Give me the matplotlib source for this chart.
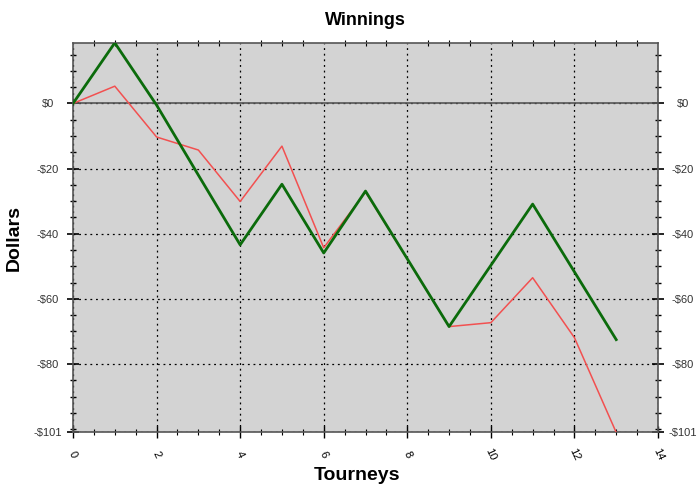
import matplotlib.pyplot as plt
import numpy as np
from matplotlib.ticker import FixedLocator, MultipleLocator

plt.rcParams["font.family"] = ["Liberation Sans", "DejaVu Sans"]

tourneys = np.arange(14)
green_vals = [0, 18.6, -0.5, -22.0, -43.4, -24.8, -45.9, -26.9, -47.7,
              -68.5, -49.7, -30.9, -51.7, -72.5]
red_vals = [0, 5.3, -10.3, -14.3, -30.1, -13.1, -44.3, -27.2, -47.8,
            -68.5, -67.3, -53.5, -71.9, -101]

y_ticks = [0, -20, -40, -60, -80, -101]
y_labels = ["$0", "-$20", "-$40", "-$60", "-$80", "-$101"]
x_ticks = [0, 2, 4, 6, 8, 10, 12, 14]

fig = plt.figure(figsize=(7, 4.87), dpi=100)
ax = fig.add_axes([0.1043, 0.112, 0.8357, 0.8])
ax.set_facecolor("#d3d3d3")

ax.axhline(0, color="#555555", linewidth=1.2, zorder=2)
ax.plot(tourneys, red_vals, color="#f25050", linewidth=1.1, zorder=3)
ax.plot(tourneys, green_vals, color="#0b6b0b", linewidth=2.0, zorder=4)

ax.set_xlim(0, 14)
ax.set_ylim(-101, 18.6)

ax.yaxis.set_major_locator(FixedLocator(y_ticks))
ax.set_yticklabels(y_labels)
ax.yaxis.set_minor_locator(MultipleLocator(5))
ax.xaxis.set_major_locator(FixedLocator(x_ticks))
ax.xaxis.set_minor_locator(MultipleLocator(0.5))

ax.grid(True, which="major", color="black", linestyle=(0, (1.5, 3)), linewidth=0.9)

ax.tick_params(axis="y", which="major", direction="inout", length=9, width=1.2,
               left=True, right=True, labelleft=True, labelright=True,
               labelsize=8, pad=13.5)
ax.tick_params(axis="y", which="minor", direction="inout", length=4.5, width=1,
               left=True, right=True)
ax.tick_params(axis="x", which="major", direction="inout", length=8, width=1,
               bottom=True, top=False, labelsize=8, pad=12)
ax.tick_params(axis="x", which="minor", direction="inout", length=5, width=0.8,
               bottom=True, top=True)
for lab in ax.get_xticklabels():
    lab.set_rotation(-65)
    lab.set_ha("center")
    lab.set_va("center")
for t in ax.yaxis.get_major_ticks():
    t.label1.set_ha("center")
    t.label2.set_ha("center")
    t.label1.set_color("#333333")
    t.label2.set_color("#333333")

for sp in ax.spines.values():
    sp.set_color("#555555")
    sp.set_linewidth(1.2)

ax.set_title("Winnings", fontsize=13, fontweight="bold", pad=13)
ax.set_xlabel("Tourneys", fontsize=14, fontweight="bold")
ax.set_ylabel("Dollars", fontsize=14, fontweight="bold")
ax.xaxis.set_label_coords(0.485, -0.088)
ax.yaxis.set_label_coords(-0.086, 0.5)

fig.savefig("out.png", dpi=100)
plt.close(fig)
